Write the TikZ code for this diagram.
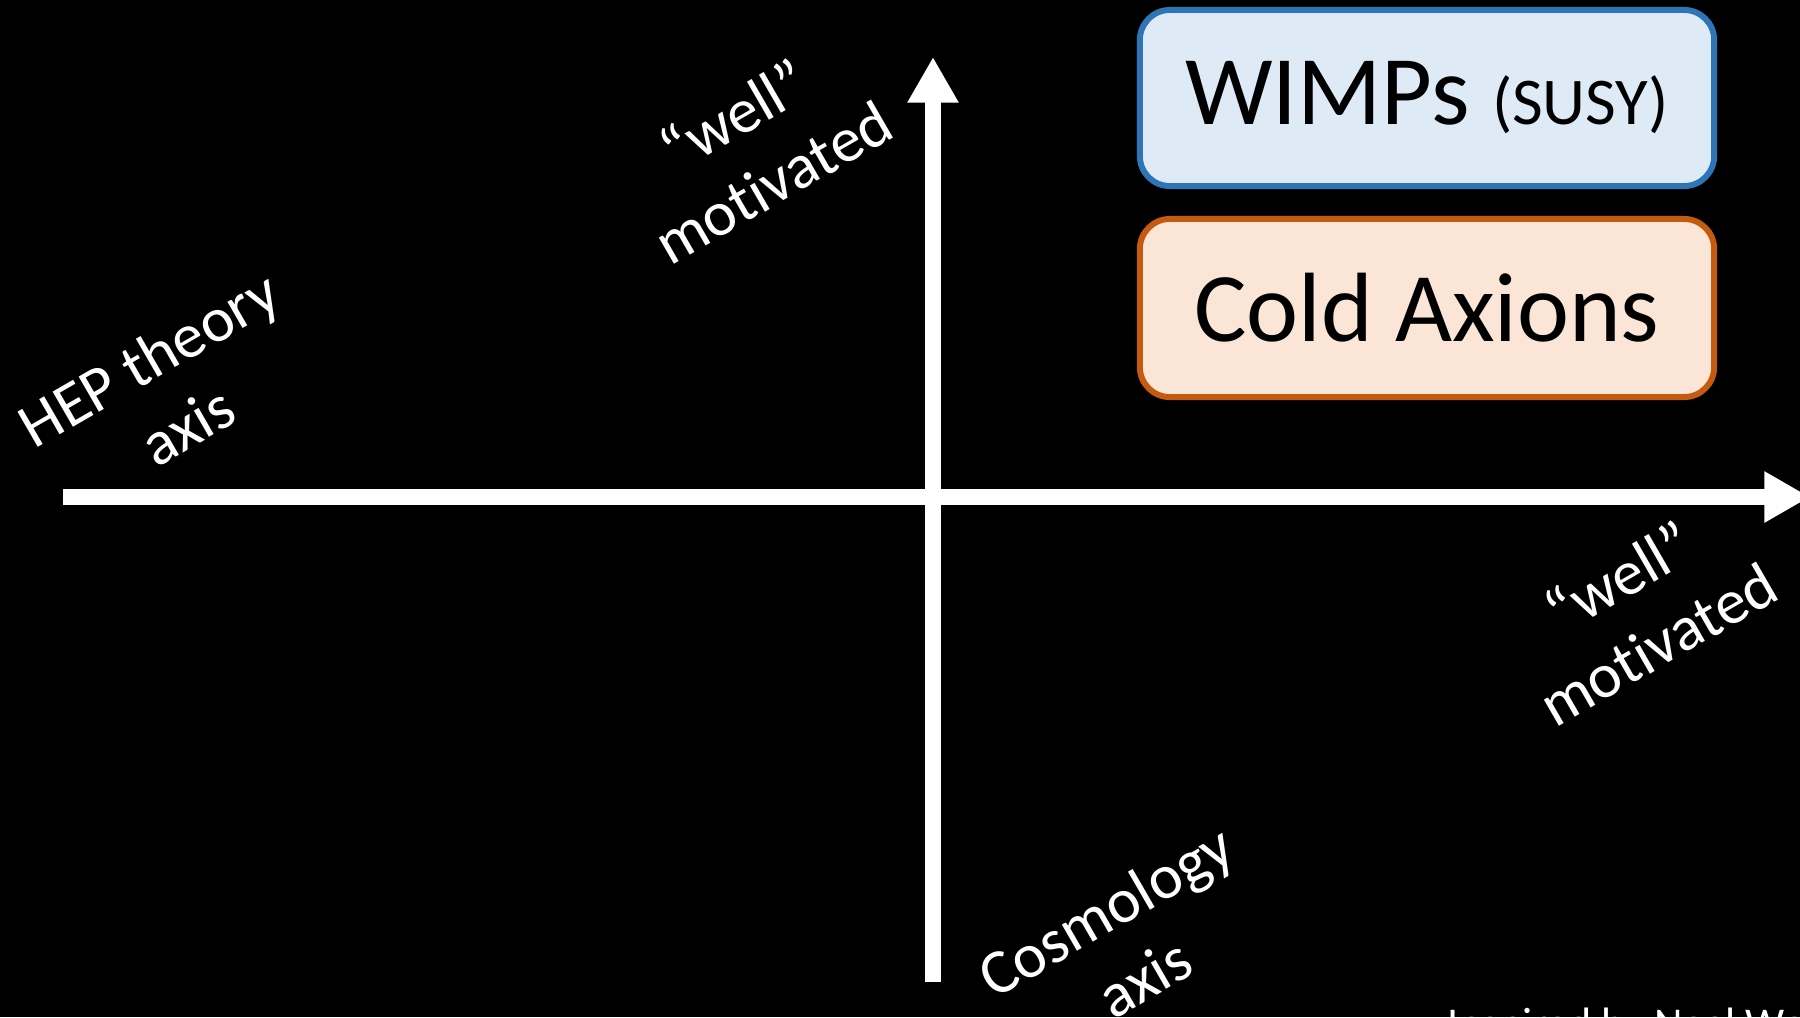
\documentclass[tikz,border=0pt]{standalone}
\usepackage{fontspec}
\setmainfont{Carlito}[Ligatures = {TeX, NoCommon}]
\usetikzlibrary{arrows.meta}

\definecolor{wimpline}{HTML}{2E75B6}
\definecolor{wimpfill}{HTML}{DEEBF7}
\definecolor{axionline}{HTML}{C55A11}
\definecolor{axionfill}{HTML}{FBE5D6}

\begin{document}
\begin{tikzpicture}[x = .01cm, y = -.01cm,
		axisarrow/.style = {white, line width = 4.55pt, -{Triangle[length = 13pt, width = 13.7pt]}},
		axislabel/.style = {white, rotate = 30, align = center, font = \fontsize{18}{22}\selectfont},
		modelbox/.style = {draw = #1, line width = 1.7pt, rounded corners = .3cm, minimum width = 5.74cm, inner sep = 0pt, text = black, font = \fontsize{28}{34}\selectfont}]
	\fill[black] (0,0) rectangle (1800,1017);
	\clip (0,0) rectangle (1800,1017);
	% axes
	\coordinate (hl) at (63,497);
	\coordinate (hr) at (1810,497);
	\coordinate (vb) at (933,982);
	\coordinate (vt) at (933,57);
	\draw[axisarrow] (hl) -- (hr);
	\draw[axisarrow] (vb) -- (vt);
	% axis labels
	\node[axislabel] (hep) at (168,392) {HEP theory\\axis};
	\node[axislabel] (cosmo) at (1125,944) {Cosmology\\axis};
	\node[axislabel] (wellv) at (753,148) {“well”\\motivated};
	\node[axislabel] (wellh) at (1638,610) {“well”\\motivated};
	% models
	\node[modelbox = wimpline, fill = wimpfill, minimum height = 1.76cm] (wimps) at (1427,98) {WIMPs {\fontsize{19}{23}\selectfont(SUSY)}};
	\node[modelbox = axionline, fill = axionfill, minimum height = 1.78cm] (axions) at (1427,308) {Cold Axions};
	\node[white, anchor = base west, inner sep = 0pt, font = \fontsize{12.5}{15}\selectfont] (credit) at (1447,1038) {Inspired by Neal Weiner};
\end{tikzpicture}
\end{document}
